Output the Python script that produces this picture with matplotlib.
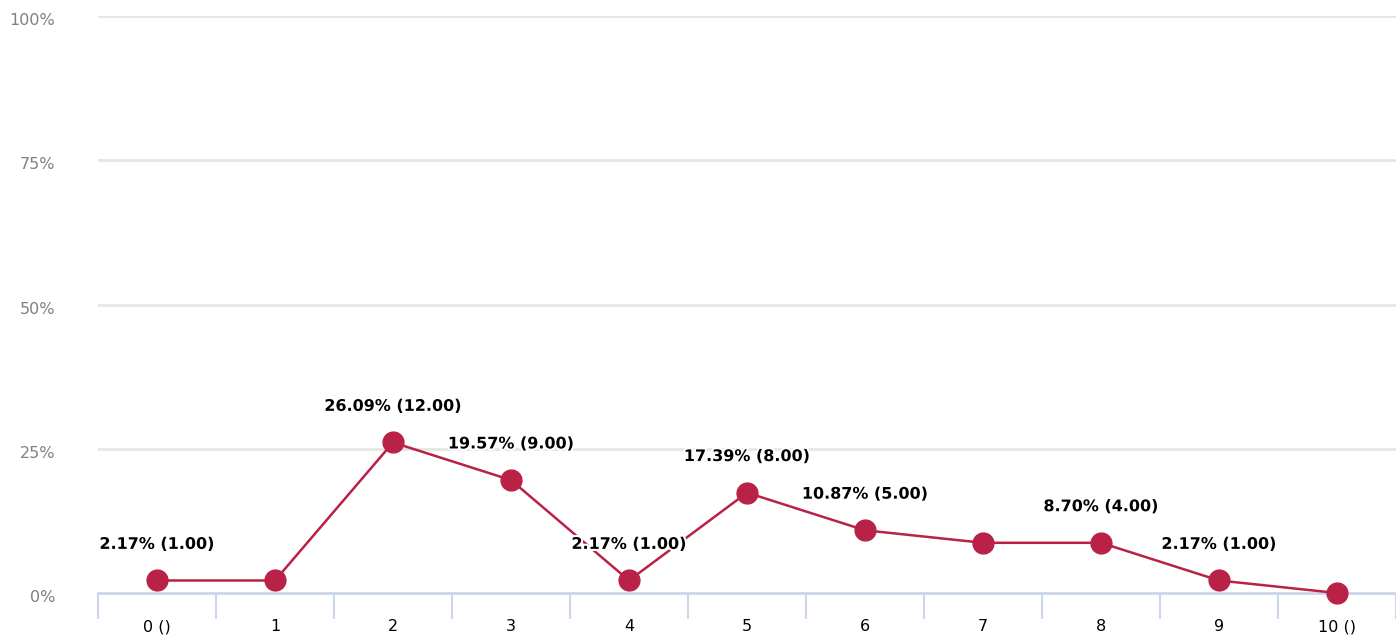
# -*- coding: utf-8 -*-
""" 評価スコア分布の折れ線グラフ
"""

import matplotlib
matplotlib.use("Agg")
import matplotlib.pyplot as plt
import matplotlib.patheffects as pe
import matplotlib.ticker as ticker
import matplotlib.transforms as mtransforms

# データ
categories = ["0 ()", "1", "2", "3", "4", "5", "6", "7", "8", "9", "10 ()"]
percents = [2.17, 2.17, 26.09, 19.57, 2.17, 17.39, 10.87, 8.70, 8.70, 2.17, 0.0]
counts = [1.00, 1.00, 12.00, 9.00, 1.00, 8.00, 5.00, 4.00, 4.00, 1.00, 0.00]
# ラベル表示する点（重なるものは非表示）
label_shown = [0, 2, 3, 4, 5, 6, 8, 9]
y_ticks = [0, 25, 50, 75, 100]
y_tick_labels = ["0%", "25%", "50%", "75%", "100%"]

line_color = "#b92146"
grid_color = "#e6e6e6"
axis_color = "#ccd6eb"

W, H = 1396, 635
fig = plt.figure(figsize=(W / 100, H / 100), dpi=100)
ax = fig.add_axes([98 / W, 42 / H, (W - 98) / W, (593 - 16) / H])

x = list(range(len(categories)))
ax.plot(x, percents, color=line_color, linewidth=1.8, marker="o",
        markersize=15, markerfacecolor=line_color, markeredgecolor=line_color,
        clip_on=False, zorder=3)

for i in label_shown:
    ax.annotate("{:.2f}% ({:.2f})".format(percents[i], counts[i]),
                xy=(i, percents[i]), xytext=(0, 26), textcoords="offset points",
                ha="center", va="center", fontsize=11.5, fontweight="bold",
                color="black", zorder=4,
                path_effects=[pe.withStroke(linewidth=3, foreground="white")])

ax.set_xlim(-0.5, len(categories) - 0.5)
ax.set_ylim(0, 100)

# y軸
ax.set_yticks(y_ticks)
ax.set_yticklabels(y_tick_labels)
ax.tick_params(axis="y", length=0, pad=31, labelsize=11.5, labelcolor="#808080")
shift = mtransforms.ScaledTranslation(0, -3 / 100, fig.dpi_scale_trans)
for t in ax.get_yticklabels():
    t.set_horizontalalignment("right")
    t.set_transform(t.get_transform() + shift)
for v in y_ticks[1:]:
    ax.axhline(v, color=grid_color, linewidth=2, zorder=1)

# x軸
ax.xaxis.set_major_locator(ticker.FixedLocator([i - 0.5 for i in range(len(categories) + 1)]))
ax.xaxis.set_major_formatter(ticker.NullFormatter())
ax.xaxis.set_minor_locator(ticker.FixedLocator(x))
ax.xaxis.set_minor_formatter(ticker.FixedFormatter(categories))
ax.tick_params(axis="x", which="major", length=19, width=1.5, color=axis_color)
ax.tick_params(axis="x", which="minor", length=0, pad=19, labelsize=11.5, labelcolor="black")

for s in ["top", "right", "left"]:
    ax.spines[s].set_visible(False)
ax.spines["bottom"].set_color(axis_color)
ax.spines["bottom"].set_linewidth(2)
ax.spines["bottom"].set_zorder(2)

fig.savefig("out.png", dpi=100)
